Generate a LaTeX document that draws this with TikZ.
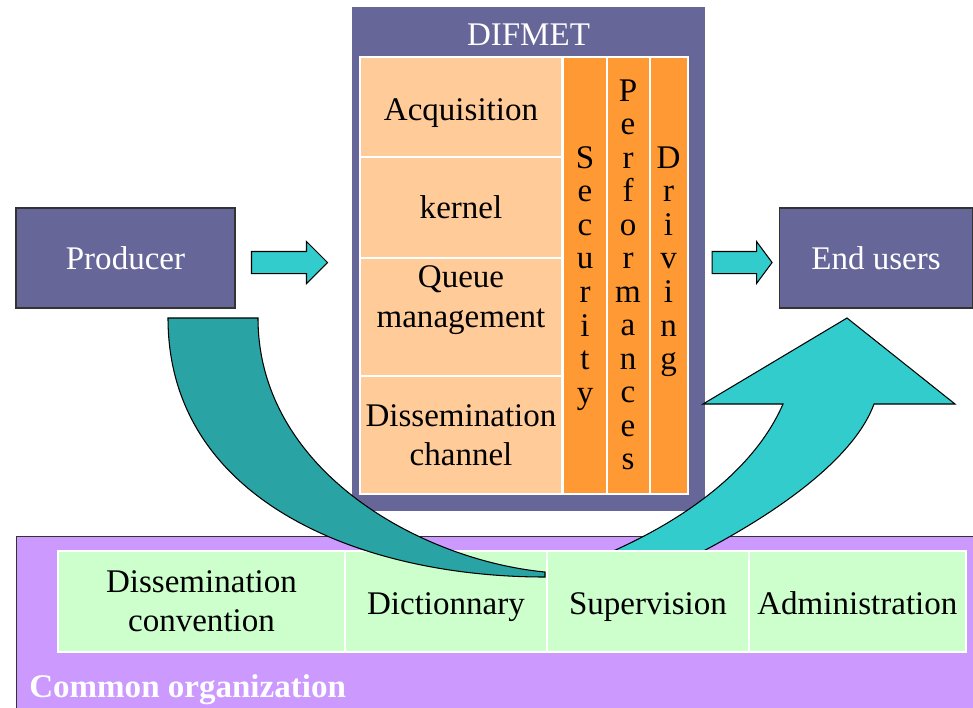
\documentclass[tikz,border=0pt]{standalone}
\usepackage{fontspec}
\setmainfont{Liberation Serif}
\usetikzlibrary{positioning,shapes.arrows}
\definecolor{boxpurple}{HTML}{666699}
\definecolor{cellorange}{HTML}{FFCC99}
\definecolor{colorange}{HTML}{FF9933}
\definecolor{cellgreen}{HTML}{CCFFCC}
\definecolor{lilac}{HTML}{CC99FF}
\definecolor{arrowcyan}{HTML}{33CCCC}
\definecolor{arrowteal}{HTML}{29A3A3}
\tikzset{
  actor node/.style={rectangle,fill=boxpurple,draw=black!80,line width=0.6pt,text=white,minimum height=2cm,inner sep=0pt},
  layer node/.style={rectangle,fill=cellorange,draw=white,line width=0.8pt,minimum width=4.04cm,inner sep=0pt,outer sep=0pt,align=center},
  column node/.style={rectangle,fill=colorange,draw=white,line width=0.8pt,minimum height=8.74cm,inner sep=0pt,outer sep=0pt},
  service node/.style={rectangle,fill=cellgreen,draw=white,line width=1.2pt,minimum height=2.02cm,inner sep=0pt,outer sep=0pt,align=center},
  single line/.style={text height=0.65cm,text depth=0.145cm},
  flow arrow/.style={single arrow,fill=arrowcyan,draw=black,line width=0.6pt,single arrow head extend=0.2cm,inner xsep=0pt,inner ysep=0.21cm},
  letter/.style={anchor=base,inner sep=0pt},
}

\begin{document}
\begin{tikzpicture}[x=0.02cm,y=-0.02cm,font=\fontsize{18.8}{22.4}\selectfont]
  \useasboundingbox (0,0) rectangle (973,707);

  % actors and the DIFMET block
  \node[actor node,minimum width=4.38cm] (producer) at (125.5,258) {Producer};
  \node[actor node,minimum width=3.86cm] (users) at (876,258) {End users};
  \node[rectangle,fill=boxpurple,minimum width=7.06cm,minimum height=10.08cm,inner sep=0pt] (difmet) at (528.5,259) {};
  \node[text=white,anchor=base] (title) at (528.5,45) {DIFMET};

  \node[layer node,minimum height=2cm,text height=0.68cm] (acq) at (461,107) {Acquisition};
  \node[layer node,minimum height=2.02cm] (kernel) [below=0pt of acq] {kernel};
  \node[layer node,minimum height=2.36cm,text depth=0.82cm] (queue) [below=0pt of kernel] {Queue\\management};
  \node[layer node,minimum height=2.36cm] (channel) [below=0pt of queue] {Dissemination\\channel};

  \node[column node,minimum width=0.88cm] (security) at (585,275.5) {};
  \node[column node,minimum width=0.86cm] (perf) [right=0pt of security] {};
  \node[column node,minimum width=0.76cm] (driving) [right=0pt of perf] {};
  \foreach \l [count=\i from 0] in {S,e,c,u,r,i,t,y}
    \node[letter] (sec\i) at (585,168+33.6*\i) {\l};
  \foreach \l [count=\i from 0] in {P,e,r,f,o,r,m,a,n,c,e,s}
    \node[letter] (perf\i) at (628,101+33.5*\i) {\l};
  \foreach \l [count=\i from 0] in {D,r,i,v,i,n,g}
    \node[letter] (drv\i) at (668.5,168+33.6*\i) {\l};

  \node[flow arrow,minimum height=1.52cm] (in arrow) at (284,262.5) {};
  \node[flow arrow,minimum height=1.2cm,single arrow tip angle=107] (out arrow) at (738,262.5) {};

  % common organization
  \node[rectangle,fill=lilac,draw=black!80,line width=0.6pt,minimum width=19.3cm,minimum height=3.6cm,anchor=north west,inner sep=0pt] (common) at (16,536) {};
  \node[anchor=base west,text=white,inner sep=0pt,font=\fontsize{18.8}{22.4}\selectfont\bfseries] (common label) at (29,697) {Common organization};

  \draw[fill=arrowcyan,line width=0.6pt] (545,577) .. controls (660,540) and (750,480) .. (783,404)
    -- (703,404) -- (847,318) -- (955,404) -- (874,404)
    .. controls (850,470) and (740,540) .. (620,590) -- cycle;

  \node[service node,minimum width=5.74cm] (convention) at (201.5,601.5) {Dissemination\\convention};
  \node[service node,single line,minimum width=4.04cm] (dictionary) [right=0pt of convention] {Dictionnary};
  \node[service node,single line,minimum width=4.04cm] (supervision) [right=0pt of dictionary] {Supervision};
  \node[service node,single line,minimum width=4.34cm] (administration) [right=0pt of supervision] {Administration};

  \draw[fill=arrowteal,line width=0.6pt] (168,318) .. controls (168,500) and (360,577) .. (545,577)
    -- (545,572) .. controls (420,560) and (258,470) .. (258,318) -- cycle;
\end{tikzpicture}
\end{document}
